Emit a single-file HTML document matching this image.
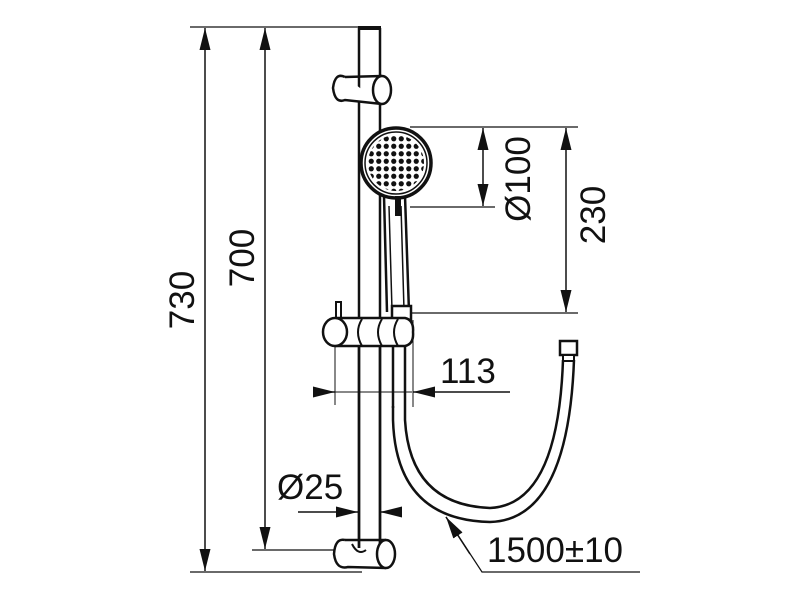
<!DOCTYPE html>
<html><head><meta charset="utf-8"><style>
html,body{margin:0;padding:0;background:#fff;}
svg{display:block;}
text{font-family:"Liberation Sans",sans-serif;fill:#111;}
</style></head><body>
<svg width="800" height="600" viewBox="0 0 800 600" xmlns="http://www.w3.org/2000/svg">
<defs>
<marker id="b" viewBox="0 0 20 10" refX="20" refY="5" markerWidth="22" markerHeight="11" orient="auto-start-reverse" markerUnits="userSpaceOnUse"><path d="M0,0 L20,5 L0,10 z" fill="#111"/></marker>
<pattern id="dots" x="0" y="0" width="7.5" height="7.5" patternUnits="userSpaceOnUse"><circle cx="3.75" cy="3.75" r="2.6" fill="#111"/></pattern>
<clipPath id="hc"><circle cx="396" cy="163" r="28"/></clipPath>
</defs>
<g stroke="#111" fill="none">
<line x1="190" y1="27" x2="362" y2="27" stroke-width="1.2"/>
<line x1="190" y1="572" x2="362" y2="572" stroke-width="1.2"/>
<line x1="252" y1="550" x2="345" y2="550" stroke-width="1.2"/>
<line x1="410" y1="127" x2="578" y2="127" stroke-width="1.2"/>
<line x1="410" y1="207" x2="495" y2="207" stroke-width="1.2"/>
<line x1="412" y1="313" x2="578" y2="313" stroke-width="1.2"/>
<line x1="205" y1="28" x2="205" y2="571" stroke-width="1.5" marker-start="url(#b)" marker-end="url(#b)"/>
<line x1="265" y1="28" x2="265" y2="549" stroke-width="1.5" marker-start="url(#b)" marker-end="url(#b)"/>
<line x1="483" y1="128" x2="483" y2="206" stroke-width="1.5" marker-start="url(#b)" marker-end="url(#b)"/>
<line x1="566" y1="128" x2="566" y2="312" stroke-width="1.5" marker-start="url(#b)" marker-end="url(#b)"/>
<line x1="315" y1="392" x2="335" y2="392" stroke-width="1.5" marker-end="url(#b)"/>
<line x1="335" y1="392" x2="412" y2="392" stroke-width="1"/>
<line x1="510" y1="392" x2="413" y2="392" stroke-width="1.5" marker-end="url(#b)"/>
<line x1="335" y1="340" x2="335" y2="405" stroke-width="1"/>
<line x1="413" y1="320" x2="413" y2="407" stroke-width="1"/>
<line x1="298" y1="512" x2="358" y2="512" stroke-width="1.5" marker-end="url(#b)"/>
<line x1="400" y1="512" x2="380" y2="512" stroke-width="1.5" marker-end="url(#b)"/>
<polyline points="640,572 482,572 446,517" stroke-width="1.2"/>
<line x1="470" y1="554" x2="446" y2="517" stroke-width="1.5" marker-end="url(#b)"/>
<line x1="359" y1="28" x2="359" y2="548" stroke-width="2.5"/>
<line x1="380" y1="28" x2="380" y2="548" stroke-width="2.5"/>
<line x1="358" y1="28" x2="381" y2="28" stroke-width="4"/>
<path d="M345,77 Q335,72 333,88 Q335,104 345,100 L382,104" stroke-width="2.5" fill="#fff"/>
<path d="M345,77 L382,76" stroke-width="2.5"/>
<ellipse cx="382" cy="90" rx="9" ry="14" stroke-width="2.5" fill="#fff"/>
<path d="M384,196 L387,312 M405,196 L409,312" stroke-width="2.5"/>
<path d="M389,206 L392,310 M401,206 L404,310" stroke-width="1.5"/>
<rect x="392" y="306" width="19" height="14" stroke-width="2.5" fill="#fff"/>
<circle cx="396" cy="163" r="35" stroke-width="3.5" fill="#fff"/>
<circle cx="396" cy="163" r="31" stroke-width="1.5"/>
<rect x="366" y="133" width="60" height="60" fill="url(#dots)" stroke="none" clip-path="url(#hc)"/>
<rect x="395" y="196" width="6" height="20" fill="#111" stroke="none"/>
<rect x="336" y="302" width="5" height="18" stroke-width="2" fill="#fff"/>
<path d="M335,318 L405,318 Q414,320 413,332 Q414,344 405,346 L335,346" stroke-width="2.5" fill="#fff"/>
<ellipse cx="335" cy="332" rx="12" ry="14" stroke-width="2.5" fill="#fff"/>
<path d="M362,319 Q354,332 362,346 M382,319 Q374,332 382,346 M398,319 Q390,332 398,346" stroke-width="2"/>
<line x1="359" y1="346" x2="359" y2="548" stroke-width="2.5"/>
<line x1="380" y1="346" x2="380" y2="548" stroke-width="2.5"/>
<path d="M393,406 L393,420 Q396,520 490,522 Q568,520 574,360" stroke-width="2.5"/>
<path d="M405,346 L405,420 Q410,505 490,508 Q558,505 563,360" stroke-width="2.5"/>
<line x1="393" y1="346" x2="393" y2="408" stroke-width="2.5"/>
<rect x="560" y="341" width="17" height="14" stroke-width="2.5" fill="#fff"/>
<rect x="563" y="355" width="11" height="6" stroke-width="2" fill="#fff"/>
<path d="M345,540 Q335,538 334,554 Q336,570 348,567 L386,568" stroke-width="2.5" fill="#fff"/>
<path d="M345,540 L386,540" stroke-width="2.5"/>
<ellipse cx="386" cy="554" rx="9" ry="14" stroke-width="2.5" fill="#fff"/>
<path d="M352,544 Q358,556 366,550" stroke-width="2"/>
</g>
<text x="0" y="0" font-size="35" transform="translate(194,300) rotate(-90)" text-anchor="middle">730</text>
<text x="0" y="0" font-size="35" transform="translate(254,258) rotate(-90)" text-anchor="middle">700</text>
<text x="0" y="0" font-size="35" transform="translate(530,179) rotate(-90)" text-anchor="middle">Ø100</text>
<text x="0" y="0" font-size="35" transform="translate(605,215) rotate(-90)" text-anchor="middle">230</text>
<text x="440" y="383" font-size="35">113</text>
<text x="277" y="499" font-size="35">Ø25</text>
<text x="487" y="562" font-size="35">1500±10</text>
</svg>
</body></html>
